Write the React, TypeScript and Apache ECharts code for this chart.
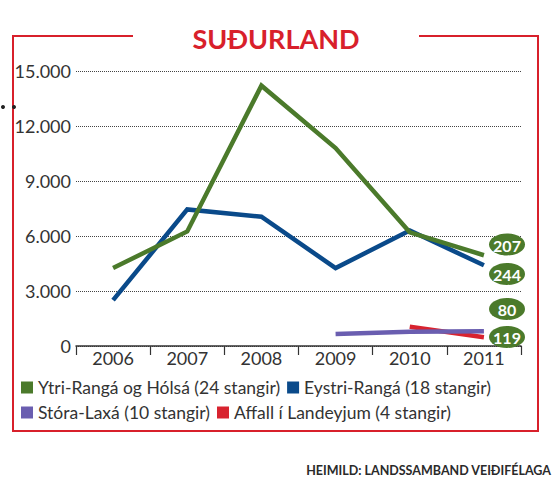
import React, { useEffect, useRef } from "react";
import * as echarts from "echarts";

const years = ["2006", "2007", "2008", "2009", "2010", "2011"];
const ytriRanga = [4250, 6250, 14200, 10800, 6200, 4950];
const eystriRanga = [2500, 7450, 7050, 4250, 6300, 4400];
const storaLaxa = [null, null, null, 650, 780, 800];
const affall = [null, null, null, null, 1050, 480];
const seriesNames = [
  "Ytri-Rangá og Hólsá (24 stangir)",
  "Eystri-Rangá (18 stangir)",
  "Stóra-Laxá (10 stangir)",
  "Affall í Landeyjum (4 stangir)",
];
const seriesColors = ["#4b7a2b", "#0a4a8a", "#6a5eb0", "#d8232f"];
const badgeLabels = ["207", "244", "80", "119"];
const yTicks = { min: 0, max: 15000, interval: 3000 };
const title = "SUÐURLAND";
const source = "HEIMILD: LANDSSAMBAND VEIÐIFÉLAGA";

const FONT = "Lato, 'Open Sans', sans-serif";
const RED = "#d8202b";
const BADGE_GREEN = "#4b7a2b";

export default function App() {
  const ref = useRef<HTMLDivElement>(null);
  useEffect(() => {
    document.body.style.margin = "0";
    const chart = echarts.init(ref.current!, null, { renderer: "svg" });
    const data = [ytriRanga, eystriRanga, storaLaxa, affall];
    const badgeY = [244.5, 274, 309, 337];
    const graphic: any[] = [
      {
        type: "polyline",
        shape: { points: [[133, 36], [13, 36], [13, 431], [538, 431], [538, 36], [419, 36]] },
        style: { stroke: RED, lineWidth: 2, fill: null },
      },
      {
        type: "text",
        x: 276,
        y: 38,
        style: {
          text: title,
          fill: RED,
          font: `bold 27px ${FONT}`,
          align: "center",
          verticalAlign: "middle",
        },
      },
      {
        type: "text",
        x: 551,
        y: 470,
        style: {
          text: source,
          fill: "#2a2a2a",
          font: `bold 12.5px ${FONT}`,
          align: "right",
          verticalAlign: "middle",
        },
      },
      { type: "circle", shape: { cx: 3, cy: 107, r: 2 }, style: { fill: "#222" } },
      { type: "circle", shape: { cx: 14, cy: 107, r: 2 }, style: { fill: "#222" } },
    ];
    badgeLabels.forEach((lbl, i) => {
      graphic.push({
        type: "ellipse",
        shape: { cx: 507, cy: badgeY[i], rx: 18, ry: 11 },
        style: { fill: BADGE_GREEN },
        z: 10,
      });
      graphic.push({
        type: "text",
        x: 507,
        y: badgeY[i] + 0.5,
        z: 11,
        style: {
          text: lbl,
          fill: "#fff",
          font: `bold 16px ${FONT}`,
          align: "center",
          verticalAlign: "middle",
        },
      });
    });

    chart.setOption({
      animation: false,
      graphic,
      grid: { left: 76, right: 33, top: 71, bottom: 139, containLabel: false },
      legend: {
        left: 21,
        top: 378.5,
        width: 525,
        padding: 0,
        itemGap: 7,
        itemWidth: 12,
        itemHeight: 12,
        icon: "rect",
        textStyle: { fontFamily: FONT, fontSize: 17.5, color: "#333", lineHeight: 17 },
        data: seriesNames.map((n, i) => ({ name: n, itemStyle: { color: seriesColors[i] } })),
      },
      xAxis: {
        type: "category",
        data: years,
        boundaryGap: true,
        axisLine: { show: true, lineStyle: { color: "#333", width: 1.5 } },
        axisTick: { show: true, interval: 0, length: 9, lineStyle: { color: "#333", width: 1.2 } },
        axisLabel: { interval: 0, margin: 3, fontFamily: FONT, fontSize: 18, color: "#333" },
        splitLine: { show: false },
      },
      yAxis: {
        type: "value",
        min: yTicks.min,
        max: yTicks.max,
        interval: yTicks.interval,
        axisLine: { show: false },
        axisTick: { show: false },
        axisLabel: {
          margin: 5,
          fontFamily: FONT,
          fontSize: 18,
          color: "#333",
          formatter: (v: number) => String(v).replace(/\B(?=(\d{3})+(?!\d))/g, "."),
        },
        splitLine: { show: true, lineStyle: { color: "#444", type: "dotted", width: 1 } },
      },
      series: seriesNames.map((n, i) => ({
        name: n,
        type: "line",
        data: data[i],
        symbol: "none",
        connectNulls: false,
        lineStyle: { color: seriesColors[i], width: 4.5, cap: "butt", join: "miter" },
        itemStyle: { color: seriesColors[i] },
        z: 5 - i,
      })),
    });
    return () => chart.dispose();
  }, []);
  return <div ref={ref} style={{ width: 554, height: 485 }} />;
}
